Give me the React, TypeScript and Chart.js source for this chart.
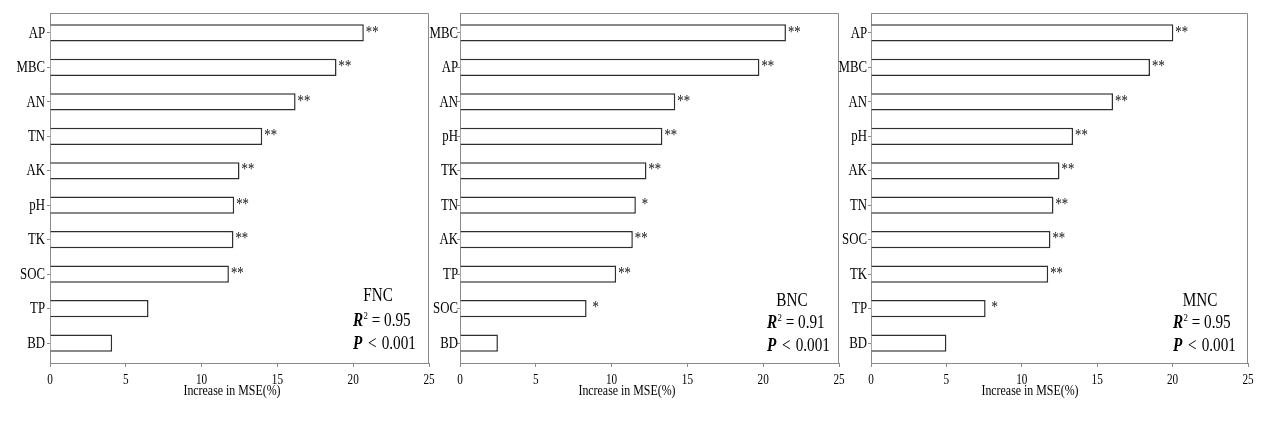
import React, { useEffect, useRef } from "react";
import { Chart, registerables } from "chart.js";

Chart.register(...registerables);

// ---------- data ----------
const fncLabels = ["AP", "MBC", "AN", "TN", "AK", "pH", "TK", "SOC", "TP", "BD"];
const fncValues = [20.7, 18.9, 16.2, 14.0, 12.5, 12.15, 12.1, 11.8, 6.5, 4.1];
const fncSig = ["**", "**", "**", "**", "**", "**", "**", "**", "", ""];

const bncLabels = ["MBC", "AP", "AN", "pH", "TK", "TN", "AK", "TP", "SOC", "BD"];
const bncValues = [21.5, 19.75, 14.2, 13.35, 12.3, 11.6, 11.4, 10.3, 8.35, 2.5];
const bncSig = ["**", "**", "**", "**", "**", "*", "**", "**", "*", ""];

const mncLabels = ["AP", "MBC", "AN", "pH", "AK", "TN", "SOC", "TK", "TP", "BD"];
const mncValues = [20.05, 18.5, 16.05, 13.4, 12.5, 12.1, 11.9, 11.75, 7.6, 5.0];
const mncSig = ["**", "**", "**", "**", "**", "**", "**", "**", "*", ""];

const xTicks = [0, 5, 10, 15, 20, 25];
const xTitle = "Increase in MSE(%)";

const panelNames = ["FNC", "BNC", "MNC"];
const panelR2 = ["0.95", "0.91", "0.95"];
const panelP = ["0.001", "0.001", "0.001"];

// ---------- layout / style ----------
const FONT = "'Liberation Serif', 'Times New Roman', serif";
const AXIS_COLOR = "#8a8a8a";
const BAR_BORDER = "#2e2e2e";
const SQ = 0.8; // horizontal text compression seen in the reference

type Layout = {
  left: number;
  width: number;
  padRight: number;
  labelGap: number;
  titleDx: number;
  nameDx: number;
  textDx: number;
  yName: number;
  yR: number;
  yP: number;
};

const layouts: Layout[] = [
  { left: 0, width: 435, padRight: 6, labelGap: 5, titleDx: 182, nameDx: -51, textDx: -76, yName: -67, yR: -42, yP: -19 },
  { left: 410, width: 435, padRight: 6, labelGap: 2, titleDx: 167, nameDx: -47, textDx: -72, yName: -62, yR: -39.5, yP: -16.5 },
  { left: 821, width: 435, padRight: 8, labelGap: 4, titleDx: 159, nameDx: -48, textDx: -75, yName: -62, yR: -39.5, yP: -16.5 },
];

type Run = { text: string; font: string; dy?: number; after?: number };

function sText(
  ctx: CanvasRenderingContext2D,
  text: string,
  x: number,
  y: number,
  font: string,
  align: CanvasTextAlign,
  sx: number
) {
  ctx.save();
  ctx.font = font;
  ctx.textAlign = align;
  ctx.translate(x, y);
  ctx.scale(sx, 1);
  ctx.fillText(text, 0, 0);
  ctx.restore();
}

function drawRuns(ctx: CanvasRenderingContext2D, x: number, y: number, runs: Run[], sx: number) {
  ctx.save();
  ctx.translate(x, y);
  ctx.scale(sx, 1);
  ctx.textAlign = "left";
  let cx = 0;
  for (const r of runs) {
    ctx.font = r.font;
    ctx.fillText(r.text, cx, r.dy || 0);
    cx += ctx.measureText(r.text).width + (r.after || 0);
  }
  ctx.restore();
}

function makePlugin(labels: string[], sig: string[], idx: number, lay: Layout) {
  return {
    id: "panelDeco" + idx,
    afterDraw(chart: any) {
      const ctx: CanvasRenderingContext2D = chart.ctx;
      const area = chart.chartArea;
      const xs = chart.scales.x;
      const ys = chart.scales.y;
      ctx.save();
      // frame (top + right)
      ctx.strokeStyle = AXIS_COLOR;
      ctx.lineWidth = 1;
      ctx.beginPath();
      ctx.moveTo(area.left, area.top + 0.5);
      ctx.lineTo(area.right - 0.5, area.top + 0.5);
      ctx.lineTo(area.right - 0.5, area.bottom);
      ctx.stroke();

      ctx.fillStyle = "#000";
      ctx.textBaseline = "middle";
      // y category labels
      labels.forEach((lab, i) => {
        const y = ys.getPixelForValue(i);
        sText(ctx, lab, area.left - lay.labelGap, y + 0.5, `16px ${FONT}`, "right", SQ);
      });
      // x tick labels
      xTicks.forEach((v) => {
        const x = xs.getPixelForValue(v);
        sText(ctx, String(v), x, area.bottom + 17, `14px ${FONT}`, "center", 0.8);
      });
      // x title
      sText(ctx, xTitle, area.left + lay.titleDx, area.bottom + 28, `14px ${FONT}`, "center", 0.85);

      // significance stars
      const meta = chart.getDatasetMeta(0);
      ctx.fillStyle = "#111";
      meta.data.forEach((el: any, i: number) => {
        const s = sig[i];
        if (!s) return;
        const off = s.length === 1 ? 6 : 2;
        sText(ctx, s, el.x + off, el.y - 0.5, `16px ${FONT}`, "left", SQ);
      });

      // annotation
      ctx.fillStyle = "#000";
      sText(ctx, panelNames[idx], area.right + lay.nameDx, area.bottom + lay.yName, `19px ${FONT}`, "center", SQ);
      const tx = area.right + lay.textDx;
      drawRuns(
        ctx,
        tx,
        area.bottom + lay.yR,
        [
          { text: "R", font: `italic bold 19px ${FONT}`, after: 0.5 },
          { text: "2", font: `11px ${FONT}`, dy: -5 },
          { text: " = " + panelR2[idx], font: `19px ${FONT}` },
        ],
        SQ
      );
      drawRuns(
        ctx,
        tx,
        area.bottom + lay.yP,
        [
          { text: "P", font: `italic bold 19px ${FONT}`, after: 2.5 },
          { text: " < ", font: `19px ${FONT}`, after: 1.5 },
          { text: panelP[idx], font: `19px ${FONT}` },
        ],
        SQ
      );
      ctx.restore();
    },
  };
}

function Panel({ labels, values, sig, idx }: { labels: string[]; values: number[]; sig: string[]; idx: number }) {
  const ref = useRef<HTMLCanvasElement | null>(null);
  const lay = layouts[idx];
  useEffect(() => {
    if (!ref.current) return;
    const chart = new Chart(ref.current, {
      type: "bar",
      data: {
        datasets: [
          {
            data: values.map((v, i) => ({ x: v, y: i })),
            backgroundColor: "#ffffff",
            borderColor: BAR_BORDER,
            borderWidth: 1.5,
            barPercentage: 0.5,
            categoryPercentage: 1,
          },
        ],
      },
      options: {
        indexAxis: "y",
        responsive: false,
        animation: false,
        events: [],
        layout: { padding: { left: 0, right: lay.padRight, top: 13, bottom: 0 } },
        plugins: { legend: { display: false }, tooltip: { enabled: false }, title: { display: false } },
        scales: {
          y: {
            type: "linear",
            reverse: true,
            offset: false,
            min: -0.58,
            max: labels.length - 1 + 0.58,
            afterBuildTicks: (scale: any) => {
              scale.ticks = labels.map((_, i) => ({ value: i }));
            },
            afterFit: (scale: any) => {
              scale.width = 50;
              scale.paddingTop = 0;
              scale.paddingBottom = 0;
            },
            ticks: { display: false },
            grid: { display: true, offset: false, drawOnChartArea: false, drawTicks: true, tickLength: 3, color: AXIS_COLOR },
            border: { display: true, color: AXIS_COLOR, width: 1 },
          },
          x: {
            type: "linear",
            min: xTicks[0],
            max: xTicks[xTicks.length - 1],
            afterBuildTicks: (scale: any) => {
              scale.ticks = xTicks.map((v) => ({ value: v }));
            },
            afterFit: (scale: any) => {
              scale.height = 58;
              scale.paddingLeft = 0;
              scale.paddingRight = 0;
            },
            ticks: { display: false },
            grid: { display: true, offset: false, drawOnChartArea: false, drawTicks: true, tickLength: 4, color: AXIS_COLOR },
            border: { display: true, color: AXIS_COLOR, width: 1 },
          },
        },
      },
      plugins: [makePlugin(labels, sig, idx, lay)],
    } as any);
    return () => chart.destroy();
  }, []);
  return (
    <div style={{ position: "absolute", left: lay.left, top: 0, width: lay.width, height: 421 }}>
      <canvas ref={ref} width={lay.width} height={421} style={{ display: "block" }} />
    </div>
  );
}

export default function App() {
  return (
    <div style={{ position: "absolute", left: 0, top: 0, width: 1270, height: 421, background: "#fff", overflow: "hidden" }}>
      <Panel labels={fncLabels} values={fncValues} sig={fncSig} idx={0} />
      <Panel labels={bncLabels} values={bncValues} sig={bncSig} idx={1} />
      <Panel labels={mncLabels} values={mncValues} sig={mncSig} idx={2} />
    </div>
  );
}
